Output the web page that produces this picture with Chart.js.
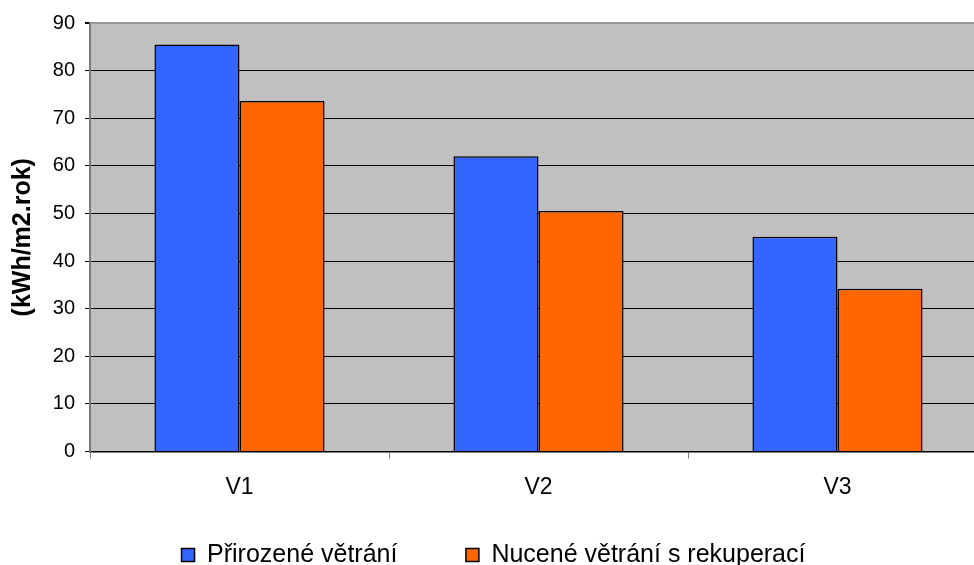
<!DOCTYPE html>
<html>
<head>
<meta charset="utf-8">
<script src="https://cdn.jsdelivr.net/npm/chart.js@4/dist/chart.umd.min.js"></script>
<style>
  html, body { margin: 0; padding: 0; background: #fff; overflow: hidden; }
  #wrap { position: relative; width: 987px; height: 565px; }
</style>
</head>
<body>
<div id="wrap"><canvas id="c"></canvas></div>
<script>
// Annual energy demand per variant
const categories = ['V1', 'V2', 'V3'];
const seriesNames = ['Přirozené větrání', 'Nucené větrání s rekuperací'];
const naturalVent = [85.5, 62.0, 45.1];
const forcedVentRecovery = [73.6, 50.5, 34.2];
const yTicks = [0, 10, 20, 30, 40, 50, 60, 70, 80, 90];
const yTitle = '(kWh/m2.rok)';

const FONT = "'Liberation Sans', Arial, sans-serif";

// grey plot-area fill
const plotBg = {
  id: 'plotBg',
  beforeDraw(chart) {
    const { ctx, chartArea: a } = chart;
    ctx.save();
    ctx.fillStyle = '#C0C0C0';
    ctx.fillRect(a.left, a.top, a.right - a.left, a.bottom - a.top);
    ctx.restore();
  }
};

new Chart(document.getElementById('c'), {
  type: 'bar',
  data: {
    labels: categories,
    datasets: [
      {
        label: seriesNames[0],
        data: naturalVent,
        backgroundColor: '#3366FF',
        borderColor: '#000000',
        borderWidth: 1.5,
        categoryPercentage: 0.569,
        barPercentage: 1.0
      },
      {
        label: seriesNames[1],
        data: forcedVentRecovery,
        backgroundColor: '#FF6600',
        borderColor: '#000000',
        borderWidth: 1.5,
        categoryPercentage: 0.569,
        barPercentage: 1.0
      }
    ]
  },
  options: {
    responsive: true,
    maintainAspectRatio: false,
    animation: false,
    layout: { padding: { left: 0, right: 0, top: 23, bottom: -12.5 } },
    plugins: {
      tooltip: { enabled: false },
      legend: {
        position: 'bottom',
        labels: {
          color: '#000',
          font: { family: FONT, size: 25 },
          boxWidth: 13,
          boxHeight: 13,
          padding: 68.5
        }
      }
    },
    scales: {
      x: {
        afterFit(scale) { scale.height = 22.5; },
        grid: {
          display: true,
          offset: true,
          drawOnChartArea: false,
          drawTicks: true,
          tickLength: 7,
          color: '#808080',
          lineWidth: 1
        },
        border: { display: true, color: '#000', width: 1.5 },
        ticks: {
          color: '#000',
          font: { family: FONT, size: 23 },
          // mirrored labels are not clipped to the short axis box;
          // negative padding pushes them below the axis line
          mirror: true,
          padding: -50,
          maxRotation: 0
        }
      },
      y: {
        min: 0,
        max: 90,
        afterFit(scale) { scale.width = 90; },
        afterBuildTicks(scale) { scale.ticks = yTicks.map(v => ({ value: v })); },
        grid: {
          color: (ctx) => (ctx.tick && ctx.tick.value === 90 ? '#9A9A9A' : '#000'),
          lineWidth: (ctx) => (ctx.tick && ctx.tick.value === 90 ? 2 : 1),
          tickColor: '#000',
          tickLength: 5,
          drawTicks: true
        },
        border: { display: true, color: '#7A7A7A', width: 2 },
        ticks: {
          color: '#000',
          font: { family: FONT, size: 20 },
          padding: 10,
          stepSize: 10
        },
        title: {
          display: true,
          text: yTitle,
          color: '#000',
          font: { family: FONT, size: 25, weight: 'bold' },
          padding: { top: 8.5, bottom: 0 }
        }
      }
    }
  },
  plugins: [plotBg]
});
</script>
</body>
</html>
